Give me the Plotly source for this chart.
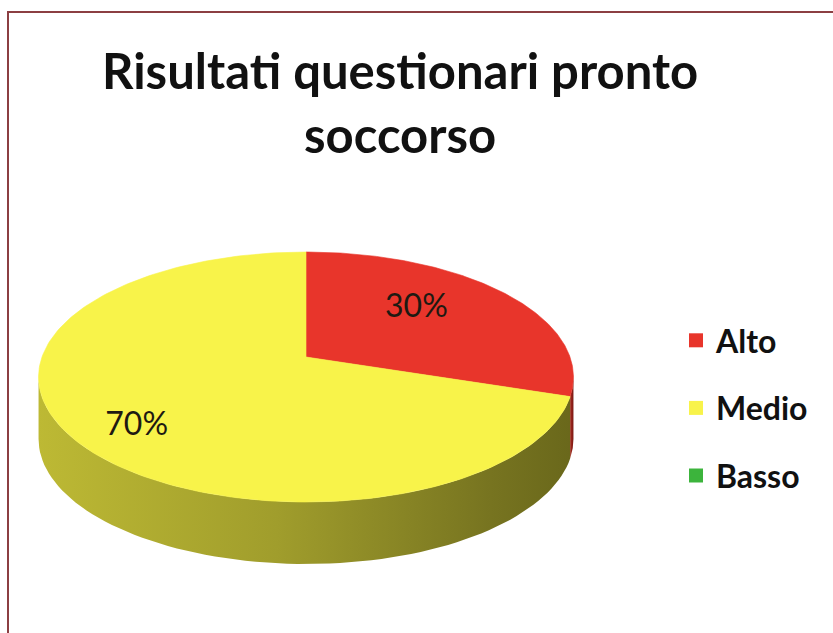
import numpy as np
import plotly.graph_objects as go

# ---- data ----
CATEGORIES = ["Alto", "Medio", "Basso"]
VALUES = [30, 70, 0]
TITLE_LINES = ["Risultati questionari pronto", "soccorso"]

# ---- styles ----
TOP_COLORS = ["#e8352b", "#f8f34a", "#3cb43c"]
WALL_SCALES = [
    [[0, "#a8281f"], [1, "#7a1a14"]],
    [[0, "#bdb934"], [0.45, "#a09d2c"], [0.85, "#777420"], [1, "#6a681b"]],
    [[0, "#2a8a2a"], [1, "#1d631d"]],
]
LABEL_R = [0.61, 0.79, 0.6]
LABEL_DPSI = [7, 6, 0]
FONT = "Lato"

# ---- geometry (pixel space) ----
W, H = 833, 633
CX, CY = 306, 357
A, B, K = 264, 121.8, 0.16
T = 62
PSI_W = np.degrees(np.arcsin(K))


def proj(psi_deg, r=1.0):
    psi = np.radians(psi_deg)
    u = r * np.cos(psi)
    v = r * np.sin(psi)
    d = 1 + K * v
    return CX + A * u / d, CY - B * v / d


fig = go.Figure()
total = sum(VALUES)
start = 0.0
slices = []
for cat, val in zip(CATEGORIES, VALUES):
    a0 = start
    a1 = start + 360.0 * val / total
    start = a1
    slices.append((cat, val, 90 - a0, 90 - a1))

# walls
for i, (cat, val, p0, p1) in enumerate(slices):
    if val <= 0:
        continue
    for shift in (-360, 0, 360):
        lo = max(p1 + shift, -180 + PSI_W)
        hi = min(p0 + shift, -PSI_W)
        if lo < hi:
            ps = np.linspace(hi, lo, 80)
            xt, yt = proj(ps)
            xs = np.concatenate([xt, xt[::-1], xt[:1]])
            ys = np.concatenate([yt, (yt + T)[::-1], yt[:1]])
            fig.add_trace(go.Scatter(
                x=xs, y=ys, mode="lines", fill="toself",
                line=dict(width=0), showlegend=False, hoverinfo="skip",
                fillgradient=dict(type="horizontal", colorscale=WALL_SCALES[i]),
            ))

# top faces
for i, (cat, val, p0, p1) in enumerate(slices):
    if val <= 0:
        continue
    ps = np.linspace(p0, p1, 200)
    xa, ya = proj(ps)
    xs = np.concatenate([[CX], xa, [CX]])
    ys = np.concatenate([[CY], ya, [CY]])
    fig.add_trace(go.Scatter(
        x=xs, y=ys, mode="lines", fill="toself",
        fillcolor=TOP_COLORS[i], line=dict(width=0.6, color=TOP_COLORS[i]),
        showlegend=False, name=cat, hoverinfo="skip",
    ))

# labels
lx, ly, lt = [], [], []
for i, (cat, val, p0, p1) in enumerate(slices):
    if val <= 0:
        continue
    x, y = proj((p0 + p1) / 2 + LABEL_DPSI[i], LABEL_R[i])
    lx.append(float(x)); ly.append(float(y)); lt.append(f"{val}%")
fig.add_trace(go.Scatter(
    x=lx, y=ly, text=lt, mode="text", showlegend=False, hoverinfo="skip",
    textfont=dict(family=FONT, size=32, color="#1e1a12"),
))

# legend entries
for i, cat in enumerate(CATEGORIES):
    fig.add_trace(go.Scatter(
        x=[None], y=[None], mode="markers", name=cat, legendgroup=cat,
        marker=dict(symbol="square", size=14, color=TOP_COLORS[i]),
    ))

fig.update_layout(
    width=W, height=H,
    margin=dict(l=0, r=0, t=0, b=0),
    paper_bgcolor="white", plot_bgcolor="white",
    xaxis=dict(range=[0, W], visible=False, fixedrange=True),
    yaxis=dict(range=[H, 0], visible=False, fixedrange=True),
    annotations=[dict(
        text="<br>".join(TITLE_LINES), showarrow=False,
        xref="paper", yref="paper", x=400 / W, xanchor="center",
        y=1 - 102 / H, yanchor="middle", align="center",
        font=dict(family=FONT, size=49, color="#111111", weight="bold"),
    )],
    legend=dict(
        x=676 / W, xanchor="left", y=1 - 313 / H, yanchor="top",
        font=dict(family=FONT, size=32, color="#111111", weight="bold"),
        tracegroupgap=23, bgcolor="rgba(0,0,0,0)",
    ),
    shapes=[dict(
        type="rect", xref="paper", yref="paper",
        x0=8 / W, x1=1.05, y0=-0.05, y1=1 - 12 / H,
        line=dict(color="#8c3f42", width=2), layer="above",
    )],
    showlegend=True,
)

fig.write_html("out.html")
